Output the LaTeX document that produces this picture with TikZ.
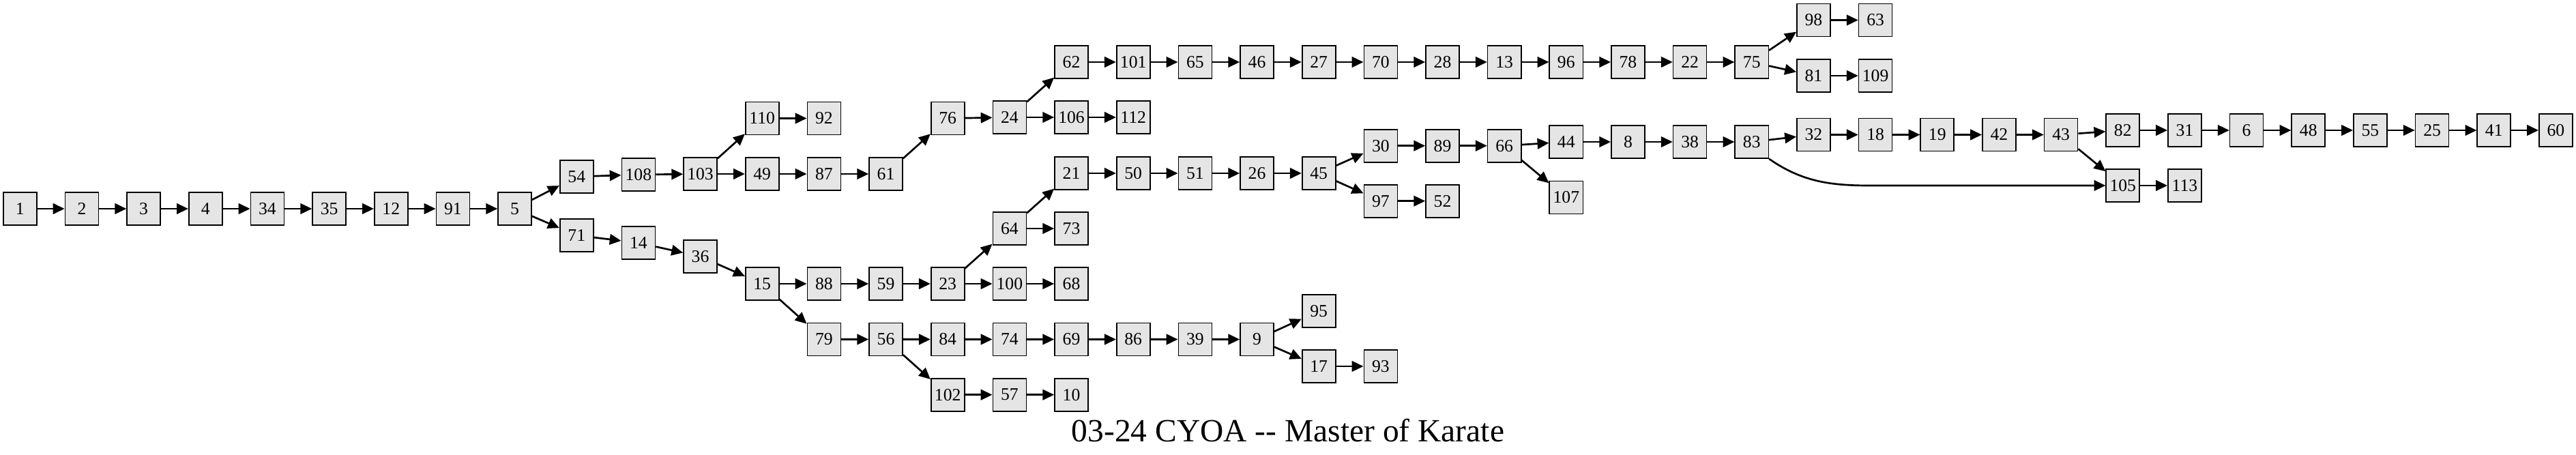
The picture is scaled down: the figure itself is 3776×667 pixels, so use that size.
\documentclass[tikz,border=0pt]{standalone}
\usepackage{fontspec}
\setmainfont{Liberation Serif}
\usetikzlibrary{arrows.meta}

\tikzset{
  page/.style={draw, line width=0.47pt, fill=black!10, inner sep=0pt,
    minimum width=0.49cm, minimum height=0.48cm, font=\fontsize{7.3}{8}\selectfont},
  edge/.style={line width=0.76pt, -{Triangle[length=4.8pt,width=4.4pt]}}
}

\begin{document}
\begin{tikzpicture}[x=0.01cm, y=-0.01cm, semithick]
  \useasboundingbox (0,0) rectangle (3776,667);

  % pages: name/column/row
  \foreach \n/\c/\y in {1/0/306, 2/1/306, 3/2/306, 4/3/306, 34/4/306, 35/5/306,
      12/6/306, 91/7/306, 5/8/306,
      54/9/259, 108/10/256, 103/11/255, 110/12/173.5, 92/13/173.5,
      49/12/255, 87/13/255, 61/14/255, 76/15/173.5, 24/16/172,
      62/17/91, 101/18/91, 65/19/91, 46/20/91, 27/21/91, 70/22/91, 28/23/91,
      13/24/91, 96/25/91, 78/26/91, 22/27/91, 75/28/91,
      98/29/29.5, 63/30/29.5, 81/29/111, 109/30/111, 106/17/172, 112/18/172,
      71/9/345, 14/10/356, 36/11/376, 15/12/416, 88/13/416, 59/14/416,
      23/15/416, 100/16/416, 68/17/416, 64/16/335, 73/17/335,
      21/17/254, 50/18/254, 51/19/254, 26/20/254, 45/21/254,
      30/22/213.7, 89/23/213.7, 66/24/213.7, 44/25/208, 8/26/208, 38/27/208,
      83/28/208, 32/29/197.5, 18/30/197.5, 19/31/197.5, 42/32/197.5, 43/33/197.5,
      82/34/191, 31/35/191, 6/36/191, 48/37/191, 55/38/191, 25/39/191,
      41/40/191, 60/41/191, 105/34/272, 113/35/272,
      97/22/294.7, 52/23/294.7, 107/25/289.5,
      79/13/497.5, 56/14/497.5, 84/15/497.5, 74/16/497.5, 69/17/497.5,
      86/18/497.5, 39/19/497.5, 9/20/497.5, 95/21/456, 17/21/537, 93/22/537,
      102/15/578.7, 57/16/578.7, 10/17/578.7}
    \node[page] (n\n) at ({29.3+90.66*\c},\y) {\n};

  % choices
  \foreach \a/\b in {1/2, 2/3, 3/4, 4/34, 34/35, 35/12, 12/91, 91/5, 5/54, 5/71,
      54/108, 108/103, 103/110, 103/49, 110/92, 49/87, 87/61, 61/76, 76/24,
      24/62, 24/106, 106/112, 62/101, 101/65, 65/46, 46/27, 27/70, 70/28,
      28/13, 13/96, 96/78, 78/22, 22/75, 75/98, 75/81, 98/63, 81/109,
      71/14, 14/36, 36/15, 15/88, 15/79, 88/59, 59/23, 23/64, 23/100, 100/68,
      64/21, 64/73, 21/50, 50/51, 51/26, 26/45, 45/30, 45/97, 97/52,
      30/89, 89/66, 66/44, 66/107, 44/8, 8/38, 38/83, 83/32, 32/18, 18/19,
      19/42, 42/43, 43/82, 43/105, 82/31, 31/6, 6/48, 48/55, 55/25, 25/41,
      41/60, 105/113, 79/56, 56/84, 56/102, 84/74, 74/69, 69/86, 86/39,
      39/9, 9/95, 9/17, 17/93, 102/57, 57/10}
    \draw[edge] (n\a) -- (n\b);

  \coordinate (turn) at (2780,272);
  \draw[edge] (n83.south east) to[out=-35,in=180] (turn) -- (n105);

  \node[anchor=base, font=\fontsize{13.5}{16}\selectfont] (title) at (1888,647)
    {03-24 CYOA -\kern0pt- Master of Karate};
\end{tikzpicture}
\end{document}
